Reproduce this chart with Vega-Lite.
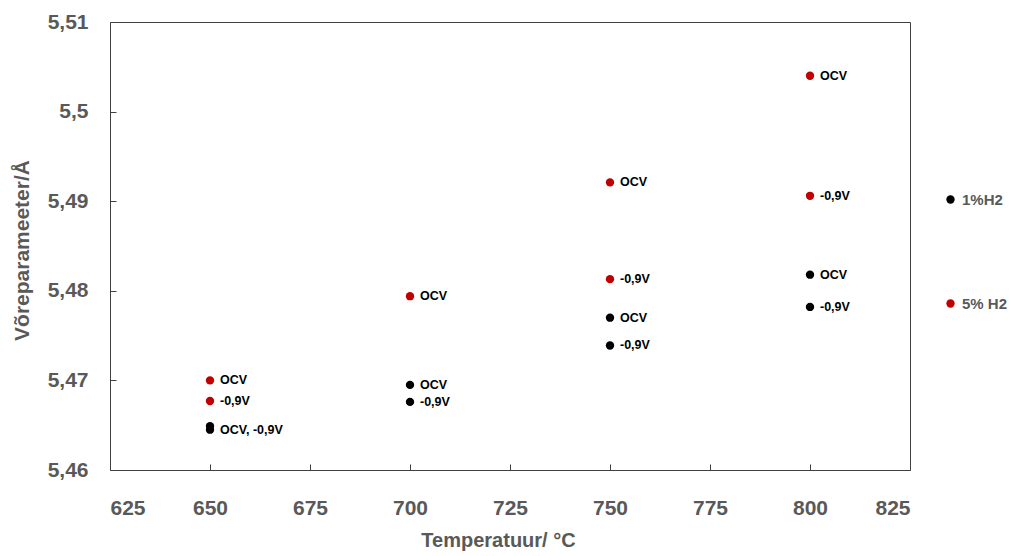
{
  "$schema": "https://vega.github.io/schema/vega-lite/v6.json",
  "width": 800,
  "height": 448,
  "autosize": {"type": "none"},
  "padding": {"left": 110, "top": 22, "right": 104, "bottom": 86},
  "background": "white",
  "config": {
    "locale": {"number": {"decimal": ",", "thousands": " ", "grouping": [3], "currency": ["", " €"]}},
    "view": {"stroke": "#404040", "strokeWidth": 1},
    "font": "Liberation Sans",
    "axis": {
      "grid": false,
      "domain": false,
      "labelFont": "Liberation Sans",
      "labelFontWeight": "bold",
      "labelFontSize": 21,
      "labelColor": "#595959",
      "titleFont": "Liberation Sans",
      "titleFontWeight": "bold",
      "titleColor": "#595959"
    }
  },
  "data": {
    "values": [
      {"temp": 650, "value": 5.4700, "gas": "5% H2", "label": "OCV"},
      {"temp": 650, "value": 5.4677, "gas": "5% H2", "label": "-0,9V"},
      {"temp": 700, "value": 5.4794, "gas": "5% H2", "label": "OCV"},
      {"temp": 750, "value": 5.4921, "gas": "5% H2", "label": "OCV"},
      {"temp": 750, "value": 5.4813, "gas": "5% H2", "label": "-0,9V"},
      {"temp": 800, "value": 5.5040, "gas": "5% H2", "label": "OCV"},
      {"temp": 800, "value": 5.4906, "gas": "5% H2", "label": "-0,9V"},
      {"temp": 650, "value": 5.4649, "gas": "1%H2", "label": ""},
      {"temp": 650, "value": 5.4645, "gas": "1%H2", "label": "OCV, -0,9V"},
      {"temp": 700, "value": 5.4695, "gas": "1%H2", "label": "OCV"},
      {"temp": 700, "value": 5.4676, "gas": "1%H2", "label": "-0,9V"},
      {"temp": 750, "value": 5.4770, "gas": "1%H2", "label": "OCV"},
      {"temp": 750, "value": 5.4739, "gas": "1%H2", "label": "-0,9V"},
      {"temp": 800, "value": 5.4818, "gas": "1%H2", "label": "OCV"},
      {"temp": 800, "value": 5.4782, "gas": "1%H2", "label": "-0,9V"}
    ]
  },
  "encoding": {
    "x": {
      "field": "temp", "type": "quantitative",
      "scale": {"domain": [625, 825], "nice": false, "zero": false},
      "axis": {"values": [625, 650, 675, 700, 725, 750, 775, 800, 825], "title": "Temperatuur/ °C", "ticks": true, "tickColor": "#404040", "tickWidth": 1, "tickSize": -6, "labelPadding": 33, "titlePadding": 12, "titleFontSize": 20, "titleX": 388}
    },
    "y": {
      "field": "value", "type": "quantitative",
      "scale": {"domain": [5.46, 5.51], "nice": false, "zero": false},
      "axis": {"values": [5.46, 5.47, 5.48, 5.49, 5.5, 5.51], "format": ".2~f", "title": "Võreparameeter/Å", "ticks": true, "tickColor": "#404040", "tickWidth": 1, "tickSize": -6, "labelPadding": 28, "titleFontSize": 21, "titleX": -78, "titleY": 228}
    }
  },
  "layer": [
    {
      "mark": {"type": "circle", "size": 70, "opacity": 1},
      "encoding": {
        "color": {
          "field": "gas", "type": "nominal",
          "scale": {"domain": ["1%H2", "5% H2"], "range": ["#000000", "#C00000"]},
          "legend": {
            "title": null,
            "orient": "none",
            "legendX": 833,
            "legendY": 170,
            "symbolType": "circle",
            "symbolSize": 70,
            "labelFont": "Liberation Sans",
            "labelFontWeight": "bold",
            "labelFontSize": 15,
            "labelColor": "#595959",
            "labelOffset": 4,
            "rowPadding": 88
          }
        }
      }
    },
    {
      "mark": {"type": "text", "align": "left", "baseline": "middle", "dx": 10, "fontWeight": "bold", "fontSize": 12.5, "color": "#000000"},
      "encoding": {"text": {"field": "label", "type": "nominal"}}
    }
  ]
}
